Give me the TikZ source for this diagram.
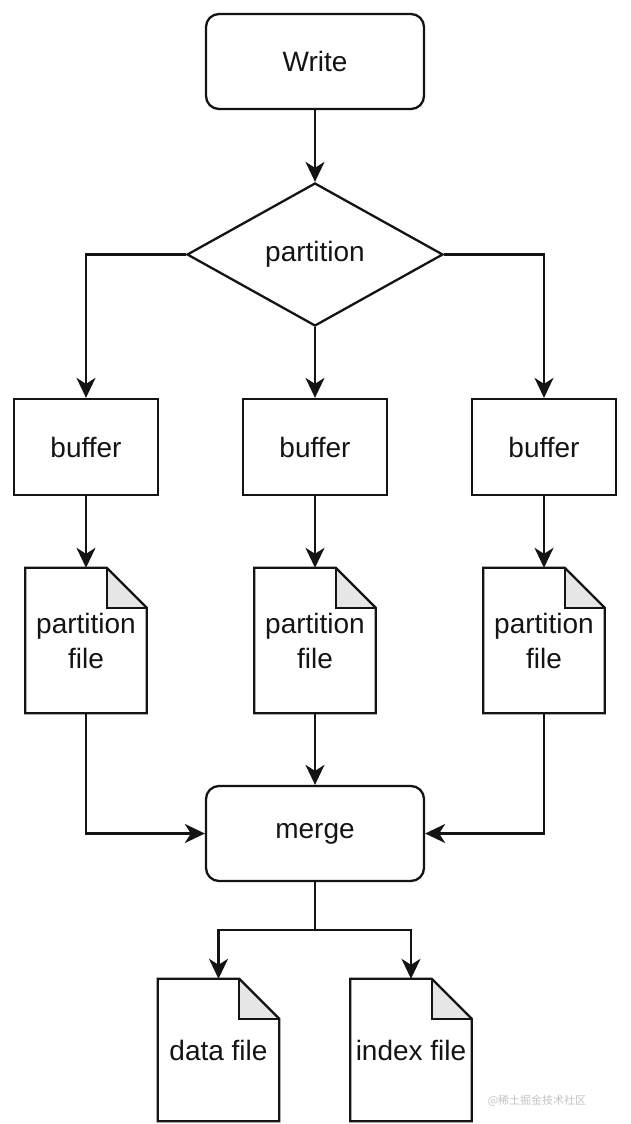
\documentclass[tikz,border=0pt]{standalone}
\usepackage{fontspec}
\setmainfont{Liberation Sans}
\newfontfamily\cjkfont{Noto Sans CJK SC}
\usetikzlibrary{arrows.meta,shapes.geometric}
\definecolor{linecol}{HTML}{141414}
\definecolor{foldgray}{HTML}{E6E6E6}
\definecolor{wmgray}{HTML}{C4C4C4}
\tikzset{
  lbl/.style={font=\fontsize{28}{35}\selectfont, text=linecol, align=center},
  roundbox/.style={lbl, draw=linecol, line width=2.3pt, rounded corners=13pt, minimum width=218pt, minimum height=95pt, inner sep=0pt},
  bufbox/.style={lbl, draw=linecol, line width=2.3pt, minimum width=144pt, minimum height=96pt, inner sep=0pt},
  decision/.style={lbl, diamond, draw=linecol, line width=2.3pt, minimum width=256pt, minimum height=143pt, inner sep=0pt, shape aspect=1.79},
  docnode/.style={lbl, minimum width=121pt, minimum height=145pt, inner sep=0pt},
  docline/.style={draw=linecol, line width=2.3pt, line join=miter},
  conn/.style={draw=linecol, line width=2.3pt, -{Stealth[length=20pt,width=19pt,inset=6pt]}},
  plainconn/.style={draw=linecol, line width=2.3pt}
}
\begin{document}
\begin{tikzpicture}[x=1pt,y=-1pt]
\useasboundingbox (0,0) rectangle (631,1124);
\fill[white] (0,0) rectangle (631,1124);

\node[roundbox] (write) at (315,61.5) {Write};
\node[decision] (part) at (315,254.5) {\raisebox{-3pt}{partition}};

\node[bufbox] (b1) at (86,447) {buffer};
\node[bufbox] (b2) at (315,447) {buffer};
\node[bufbox] (b3) at (544,447) {buffer};

\node[docnode] (pf1) at (86,640.5) {partition\\file};
\node[docnode] (pf2) at (315,640.5) {partition\\file};
\node[docnode] (pf3) at (544,640.5) {partition\\file};

\node[roundbox] (merge) at (315,833.5) {merge};

\node[docnode, minimum height=142pt] (df) at (218.5,1050) {data file};
\node[docnode, minimum height=142pt] (xf) at (411,1050) {index file};

\foreach \n in {pf1,pf2,pf3,df,xf}{
  \fill[foldgray] ([xshift=-40pt]\n.north east) -- ([yshift=-40pt]\n.north east) -- ([xshift=-40pt,yshift=-40pt]\n.north east) -- cycle;
  \path[docline] (\n.north west) -- ([xshift=-40pt]\n.north east) -- ([yshift=-40pt]\n.north east) -- (\n.south east) -- (\n.south west) -- cycle;
  \path[docline] ([xshift=-40pt]\n.north east) -- ([xshift=-40pt,yshift=-40pt]\n.north east) -- ([yshift=-40pt]\n.north east);
}

% connectors
\path[conn] (write.south) -- (part.north);
\path[conn] (part.west) -| (b1.north);
\path[conn] (part.south) -- (b2.north);
\path[conn] (part.east) -| (b3.north);

\path[conn] (b1.south) -- (pf1.north);
\path[conn] (b2.south) -- (pf2.north);
\path[conn] (b3.south) -- (pf3.north);

\path[conn] (pf1.south) |- (merge.west);
\path[conn] (pf2.south) -- (merge.north);
\path[conn] (pf3.south) |- (merge.east);

\coordinate (split) at (315,930);
\path[plainconn] (merge.south) -- (split);
\path[conn] (split) -| (df.north);
\path[conn] (split) -| (xf.north);

% watermark
\node[font=\cjkfont\fontsize{11}{13}\selectfont, text=wmgray] (wm) at (537,1101) {@稀土掘金技术社区};
\end{tikzpicture}
\end{document}
